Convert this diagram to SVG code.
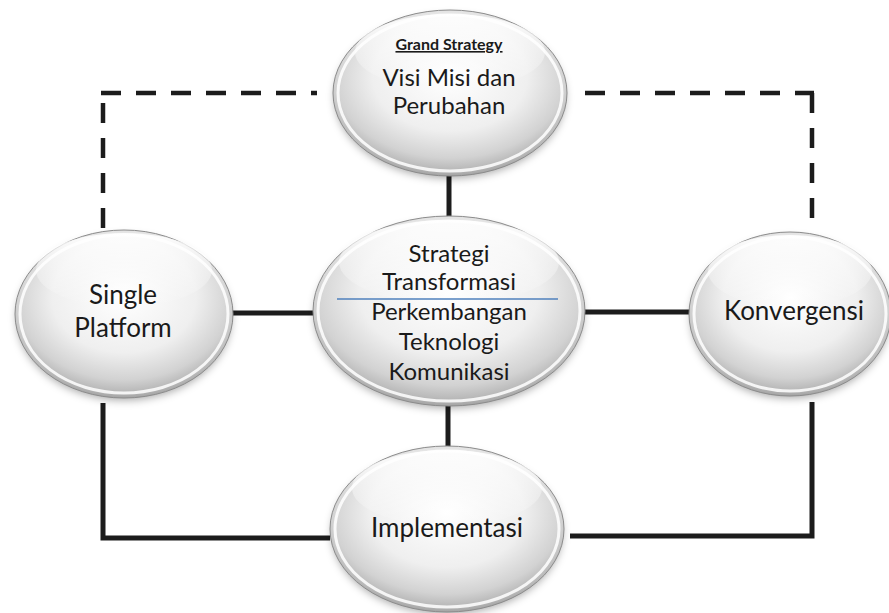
<svg xmlns="http://www.w3.org/2000/svg" width="889" height="613" viewBox="0 0 889 613">
  <style>
    .lbl { font-family: Lato, "Open Sans", "Liberation Sans", sans-serif; fill: #1a1a1a; text-anchor: middle; }
    .s24 { font-size: 24px; }
    .s26 { font-size: 26px; }
    .head { font-size: 16px; font-weight: bold; text-decoration: underline; }
    .dash { stroke: #1c1c1c; stroke-width: 4.5; stroke-dasharray: 20 15; fill: none; }
    .solid { stroke: #1c1c1c; stroke-width: 5; fill: none; }
    .body { fill: url(#bead); stroke: #8c8c8c; stroke-width: 1; }
    .rim { fill: none; stroke: #ffffff; stroke-width: 3; stroke-opacity: 0.85; }
    .gloss { fill: url(#gloss); }
    .shadow { fill: #000; fill-opacity: 0.35; filter: url(#soft); }
  </style>
  <defs>
    <radialGradient id="bead" cx="50%" cy="40%" r="60%">
      <stop offset="0" stop-color="#ffffff"/>
      <stop offset="0.55" stop-color="#efefef"/>
      <stop offset="0.82" stop-color="#d2d2d2"/>
      <stop offset="0.93" stop-color="#bababa"/>
      <stop offset="1" stop-color="#a4a4a4"/>
    </radialGradient>
    <linearGradient id="gloss" x1="0" y1="0" x2="0" y2="1">
      <stop offset="0" stop-color="#ffffff" stop-opacity="0.9"/>
      <stop offset="1" stop-color="#ffffff" stop-opacity="0"/>
    </linearGradient>
    <filter id="soft" x="-20%" y="-20%" width="140%" height="140%">
      <feGaussianBlur stdDeviation="4"/>
    </filter>
  </defs>

  <rect width="889" height="613" fill="#ffffff"/>

  <!-- connectors -->
  <g id="connectors">
    <line class="dash" x1="101" y1="93" x2="317" y2="93"/>
    <line class="dash" x1="103" y1="228" x2="103" y2="93"/>
    <line class="dash" x1="585" y1="93" x2="814" y2="93"/>
    <line class="dash" x1="812" y1="218" x2="812" y2="93"/>
    <line class="solid" x1="449" y1="172" x2="449" y2="222"/>
    <line class="solid" x1="448" y1="402" x2="448" y2="450"/>
    <line class="solid" x1="230" y1="313" x2="316" y2="313"/>
    <line class="solid" x1="581" y1="312" x2="692" y2="312"/>
    <polyline class="solid" points="103,403 103,538 330,538"/>
    <polyline class="solid" points="570,536 812,536 812,402"/>
  </g>

  <!-- top: grand strategy -->
  <g id="node-visi">
    <ellipse class="shadow" cx="450" cy="97" rx="115" ry="81"/>
    <ellipse class="body" cx="450" cy="93" rx="117" ry="83"/>
    <ellipse class="rim" cx="450" cy="93" rx="112" ry="78"/>
    <ellipse class="gloss" cx="450" cy="52" rx="95" ry="38"/>
    <text class="lbl head" x="449" y="50">Grand Strategy</text>
    <text class="lbl s24" x="449" y="86">Visi Misi dan</text>
    <text class="lbl s24" x="449" y="114">Perubahan</text>
  </g>

  <!-- centre -->
  <g id="node-strategi">
    <ellipse class="shadow" cx="449" cy="315" rx="134" ry="93"/>
    <ellipse class="body" cx="449" cy="311" rx="136" ry="95"/>
    <ellipse class="rim" cx="449" cy="311" rx="131" ry="90"/>
    <ellipse class="gloss" cx="449" cy="262" rx="110" ry="42"/>
    <text class="lbl s24" x="449" y="262">Strategi</text>
    <text class="lbl s24" x="449" y="290">Transformasi</text>
    <line x1="337" y1="299" x2="558" y2="299" stroke="#4f81bd" stroke-width="1.5"/>
    <text class="lbl s24" x="449" y="320">Perkembangan</text>
    <text class="lbl s24" x="449" y="350">Teknologi</text>
    <text class="lbl s24" x="449" y="380">Komunikasi</text>
  </g>

  <!-- left -->
  <g id="node-single">
    <ellipse class="shadow" cx="124" cy="318" rx="107" ry="82"/>
    <ellipse class="body" cx="124" cy="314" rx="109" ry="84"/>
    <ellipse class="rim" cx="124" cy="314" rx="104" ry="79"/>
    <ellipse class="gloss" cx="124" cy="270" rx="88" ry="37"/>
    <text class="lbl s26" x="123" y="304">Single</text>
    <text class="lbl s26" x="123" y="337">Platform</text>
  </g>

  <!-- right -->
  <g id="node-konvergensi">
    <ellipse class="shadow" cx="790" cy="318" rx="99" ry="80"/>
    <ellipse class="body" cx="790" cy="314" rx="101" ry="82"/>
    <ellipse class="rim" cx="790" cy="314" rx="96" ry="77"/>
    <ellipse class="gloss" cx="790" cy="271" rx="82" ry="36"/>
    <text class="lbl s26" x="794" y="320">Konvergensi</text>
  </g>

  <!-- bottom -->
  <g id="node-implementasi">
    <ellipse class="shadow" cx="447" cy="533" rx="115" ry="81"/>
    <ellipse class="body" cx="447" cy="529" rx="117" ry="83"/>
    <ellipse class="rim" cx="447" cy="529" rx="112" ry="78"/>
    <ellipse class="gloss" cx="447" cy="488" rx="95" ry="38"/>
    <text class="lbl s26" x="447" y="537">Implementasi</text>
  </g>
</svg>
